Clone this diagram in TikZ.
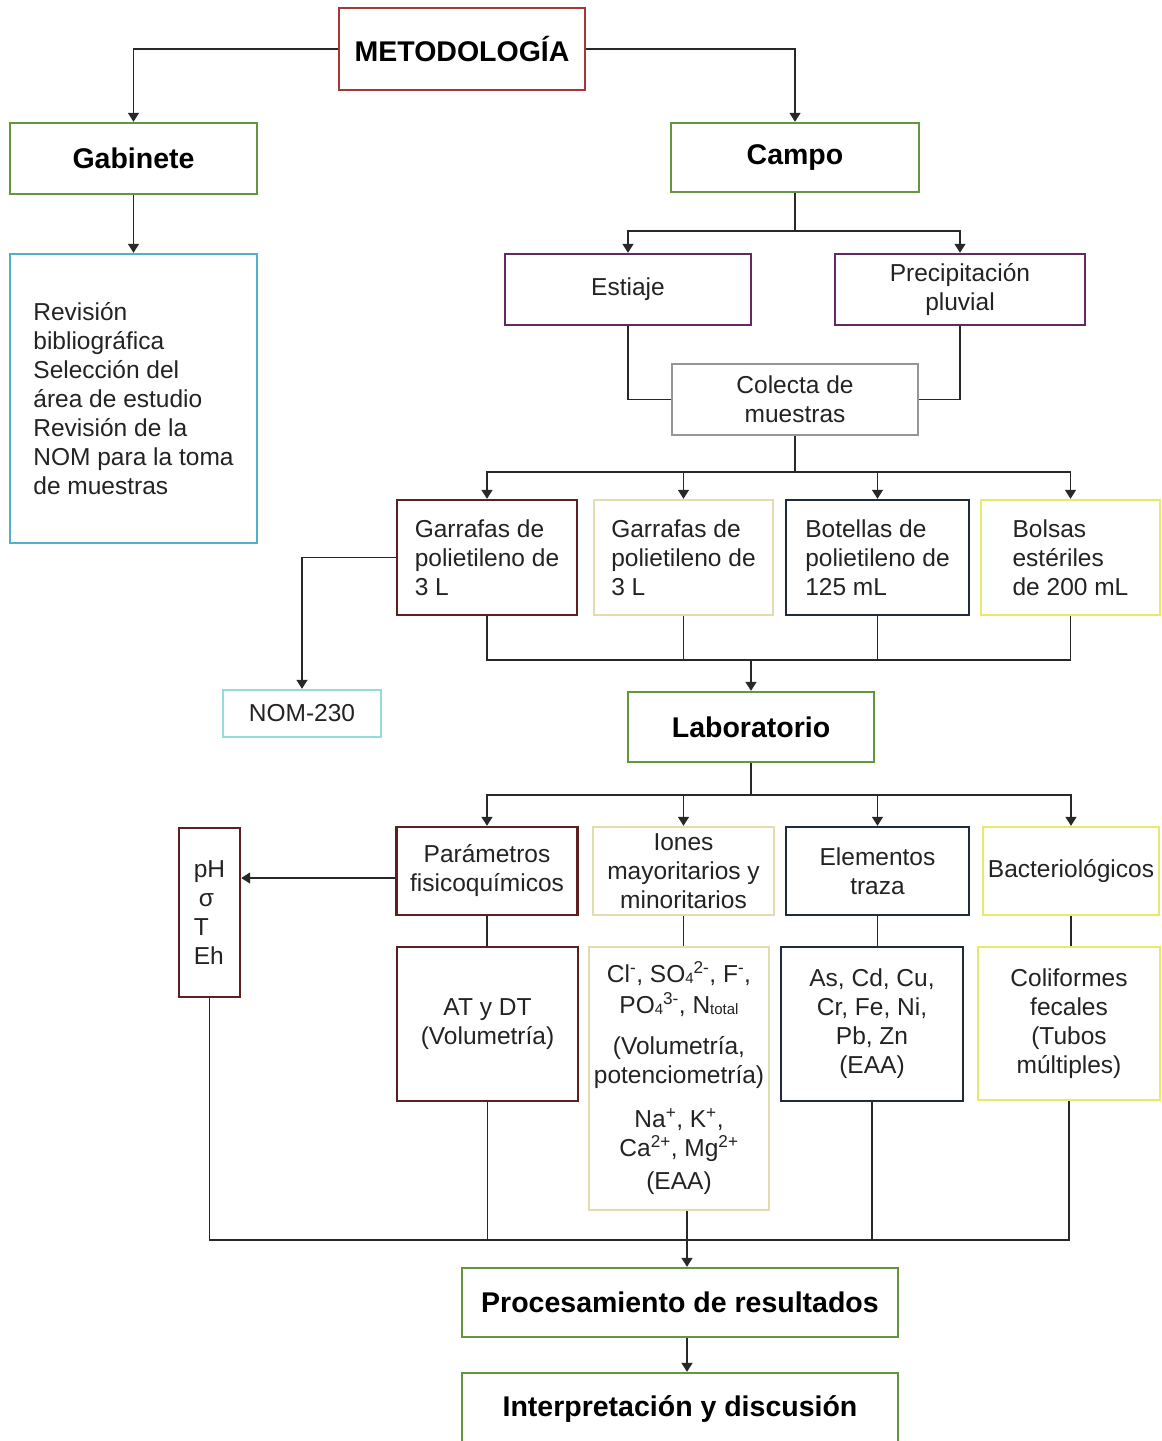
\documentclass[tikz,border=0pt]{standalone}
\usepackage{fontspec}
\setmainfont{Liberation Sans}
\usetikzlibrary{arrows.meta,calc}

\definecolor{metred}{RGB}{165,55,55}
\definecolor{dkred}{RGB}{92,32,32}
\definecolor{grn}{RGB}{100,150,62}
\definecolor{cyanb}{RGB}{80,178,198}
\definecolor{nomc}{RGB}{150,218,224}
\definecolor{purp}{RGB}{100,40,100}
\definecolor{grayb}{RGB}{150,150,150}
\definecolor{beige}{RGB}{226,221,176}
\definecolor{navy}{RGB}{30,44,60}
\definecolor{yel}{RGB}{232,232,105}
\definecolor{txt}{RGB}{35,35,35}
\definecolor{lnc}{RGB}{40,40,40}

\newcommand\rfnt{\fontsize{24.5}{29}\selectfont}
\newcommand\hfnt{\fontsize{28.5}{33}\selectfont\bfseries}
\newcommand\sbs[1]{\raisebox{-1pt}{\fontsize{15}{15}\selectfont #1}}
\newcommand\sps[1]{\textsuperscript{#1}}

\tikzset{
  box/.style={draw=#1, line width=2.4pt, rectangle, inner sep=0pt, align=center, font=\rfnt, text=txt},
  lbox/.style={box=#1, align=left},
  hbox/.style={box=#1, font=\hfnt, text=black},
  conn/.style={line width=1.5pt, draw=lnc},
  arr/.style={conn, -{Triangle[width=11pt,length=9pt]}},
}

\begin{document}
\begin{tikzpicture}[x=1pt,y=-1pt]
\fill[white] (0,0) rectangle (1162,1441);
\useasboundingbox (0,0) rectangle (1162,1441);

% top level
\node[hbox=metred, minimum width=246, minimum height=82] (met) at (462,49) {METODOLOGÍA};
\node[hbox=grn, minimum width=247, minimum height=71] (gab) at (133.5,158.5) {Gabinete};
\node[hbox=grn, minimum width=248, minimum height=69] (camp) at (795,157.5) {Campo};
\node[lbox=cyanb, minimum width=247, minimum height=289] (rev) at (133.5,398.5)
  {Revisión\\bibliográfica\\Selección del\\área de estudio\\Revisión de la\\NOM para la toma\\de muestras};

\node[box=purp, minimum width=246, minimum height=71] (est) at (628,289.5) {Estiaje};
\node[box=purp, minimum width=250, minimum height=71] (pre) at (960,289.5) {Precipitación\\pluvial};
\node[box=grayb, minimum width=246, minimum height=71] (col) at (795,399.5) {Colecta de\\muestras};

% containers
\node[lbox=dkred, minimum width=180, minimum height=115] (g1) at (487,557.5) {Garrafas de\\polietileno de\\3 L};
\node[lbox=beige, minimum width=179, minimum height=115] (g2) at (683.5,557.5) {Garrafas de\\polietileno de\\3 L};
\node[lbox=navy, minimum width=183, minimum height=115] (bo) at (877.5,557.5) {Botellas de\\polietileno de\\125 mL};
\node[lbox=yel, minimum width=179, minimum height=115] (bl) at (1070.5,557.5) {Bolsas\\estériles\\de 200 mL};

\node[box=nomc, minimum width=158, minimum height=47] (nom) at (302,713.5) {NOM-230};
\node[hbox=grn, minimum width=246, minimum height=70] (lab) at (751,727) {Laboratorio};

% analyses
\node[box=dkred, minimum width=181, minimum height=88] (par) at (487,871) {Parámetros\\fisicoquímicos};
\node[box=beige, minimum width=181, minimum height=88] (ion) at (683.5,871) {Iones\\mayoritarios y\\minoritarios};
\node[box=navy, minimum width=183, minimum height=88] (ele) at (877.5,871) {Elementos\\traza};
\node[box=yel, minimum width=176, minimum height=88] (bac) at (1071,871) {Bacteriológicos};
\node[lbox=dkred, minimum width=61, minimum height=169] (ph) at (209.5,912.5) {pH\\\hspace{5pt}σ\\T\\Eh};

\node[box=dkred, minimum width=181, minimum height=154] (at) at (487.5,1024) {AT y DT\\(Volumetría)};
\node[box=beige, minimum width=180, minimum height=263] (cl) at (679,1078.5)
  {Cl\sps{-}, SO\sbs{4}\sps{2-}, F\sps{-},\\[2pt]PO\sbs{4}\sps{3-}, N\sbs{total}\\[12pt](Volumetría,\\potenciometría)\\[15pt]Na\sps{+}, K\sps{+},\\Ca\sps{2+}, Mg\sps{2+}\\[4pt](EAA)};
\node[box=navy, minimum width=182, minimum height=154] (as) at (872,1024) {As, Cd, Cu,\\Cr, Fe, Ni,\\Pb, Zn\\(EAA)};
\node[box=yel, minimum width=182, minimum height=153] (colf) at (1069,1023.5) {Coliformes\\fecales\\(Tubos\\múltiples)};

\node[hbox=grn, minimum width=436, minimum height=69] (proc) at (680,1302.5) {Procesamiento de resultados};
\node[hbox=grn, minimum width=436, minimum height=72] (intp) at (680,1409) {Interpretación y discusión};

% junction coordinates
\coordinate (jc) at (795,231);
\coordinate (jk) at (795,472);
\coordinate (jb) at (751,660);
\coordinate (jl) at (751,795);
\coordinate (jr) at (687,1240);

% connectors
\draw[arr] (met.west) -| (gab.north);
\draw[arr] (met.east) -| (camp.north);
\draw[arr] (gab.south) -- (rev.north);

\draw[conn] (camp.south) -- (jc);
\draw[arr] (jc) -| (est.north);
\draw[arr] (jc) -| (pre.north);

\draw[conn] (est.south) |- (col.west);
\draw[conn] (pre.south) |- (col.east);

\draw[conn] (col.south) -- (jk);
\draw[arr] (jk) -| (g1.north);
\draw[arr] (jk) -| (g2.north);
\draw[arr] (jk) -| (bo.north);
\draw[arr] (jk) -| (bl.north);

\draw[conn] (g1.south) |- (jb);
\draw[conn] (g2.south) -- (g2.south |- jb);
\draw[conn] (bo.south) -- (bo.south |- jb);
\draw[conn] (bl.south) |- (jb);
\draw[arr] (jb) -- (lab.north);

\draw[arr] (g1.west) -| (nom.north);

\draw[conn] (lab.south) -- (jl);
\draw[arr] (jl) -| (par.north);
\draw[arr] (jl) -| (ion.north);
\draw[arr] (jl) -| (ele.north);
\draw[arr] (jl) -| (bac.north);

\draw[arr] ($(par.west)+(0,7)$) -- ($(par.west -| ph.east)+(0,7)$);

\draw[conn] (par.south) -- (par.south |- at.north);
\draw[conn] (ion.south) -- (ion.south |- cl.north);
\draw[conn] (ele.south) -- (ele.south |- as.north);
\draw[conn] (bac.south) -- (bac.south |- colf.north);

\draw[conn] (ph.south) |- (jr);
\draw[conn] (at.south) -- (at.south |- jr);
\draw[conn] (cl.south -| jr) -- (jr);
\draw[conn] (as.south) -- (as.south |- jr);
\draw[conn] (colf.south) |- (jr);
\draw[arr] (jr) -- (jr |- proc.north);
\draw[arr] (jr |- proc.south) -- (jr |- intp.north);
\end{tikzpicture}
\end{document}
